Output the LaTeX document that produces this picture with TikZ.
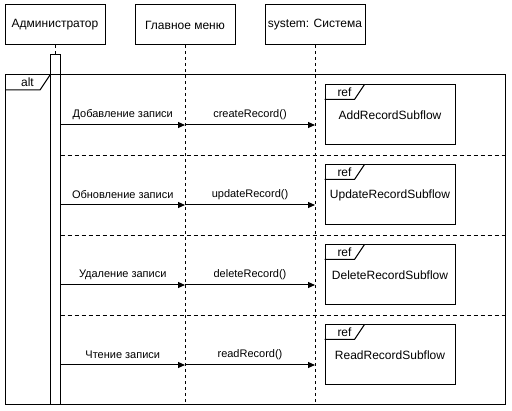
\documentclass[tikz,border=0pt]{standalone}
\usepackage{fontspec}
\setmainfont{Liberation Sans}
\usetikzlibrary{arrows.meta}
\begin{document}
\begin{tikzpicture}[x=1pt,y=-1pt,line width=1pt,
  head/.style={draw,fill=white,minimum width=100pt,minimum height=40pt,inner sep=0pt,font=\fontsize{12}{14}\selectfont},
  life/.style={dash pattern=on 3pt off 3pt},
  sep/.style={dash pattern=on 4pt off 3pt},
  msg/.style={-{Triangle[length=7pt,width=6pt]}},
  mlabel/.style={font=\fontsize{11}{13}\selectfont,inner sep=0pt},
  refbox/.style={draw,fill=white,minimum width=130pt,minimum height=60pt,inner sep=0pt,font=\fontsize{12}{14}\selectfont},
  tabtext/.style={font=\fontsize{12}{14}\selectfont,inner sep=0pt}]
\useasboundingbox (0,0) rectangle (512,411);

% participants
\node[head] (admin) at (55,25) {Администратор};
\node[head] (menu) at (185,25) {Главное меню};
\node[head] (sys) at (315,25) {system: Система};

% lifelines
\coordinate (bot) at (0,405);
\draw[life] (menu.south) -- (menu.south |- bot);
\draw[life] (sys.south) -- (sys.south |- bot);
\draw[life] (admin.south) -- ++(0,10);

% activation bar
\node[draw,fill=white,minimum width=10pt,minimum height=350pt,inner sep=0pt] (act) at (55,230) {};

% combined fragment
\coordinate (fTL) at (5,75);
\coordinate (fBR) at (505,405);
\draw (fTL) rectangle (fBR);
\draw (5,90) -- (40,90) -- (50,75);
\node[tabtext] (alt) at (27.5,82.5) {alt};

% operand separators
\foreach \y/\n in {156/s1,236/s2,316/s3}{
  \coordinate (\n) at (0,\y);
  \draw[sep] (act.east |- \n) -- (fBR |- \n);
}

% rows: messages and references
\foreach \i/\y/\lab/\call/\sub in {
  1/125/Добавление записи/createRecord()/AddRecordSubflow,
  2/205/Обновление записи/updateRecord()/UpdateRecordSubflow,
  3/285/Удаление записи/deleteRecord()/DeleteRecordSubflow,
  4/365/Чтение записи/readRecord()/ReadRecordSubflow}{
  \coordinate (r\i) at (0,\y);
  \draw[msg] (act.east |- r\i) -- (menu.south |- r\i)
    node[mlabel,midway,yshift=10pt] (ml\i) {\lab};
  \draw[msg] (menu.south |- r\i) -- (sys.south |- r\i)
    node[mlabel,midway,yshift=10pt] (mc\i) {\call};
  \node[refbox] (ref\i) at (390,\y-10) {\sub};
  \draw ([yshift=-15pt]ref\i.north west) -- ++(30,0) -- ([xshift=40pt]ref\i.north west);
  \node[tabtext] (rt\i) at ([xshift=20pt,yshift=-7.5pt]ref\i.north west) {ref};
}
\end{tikzpicture}
\end{document}
